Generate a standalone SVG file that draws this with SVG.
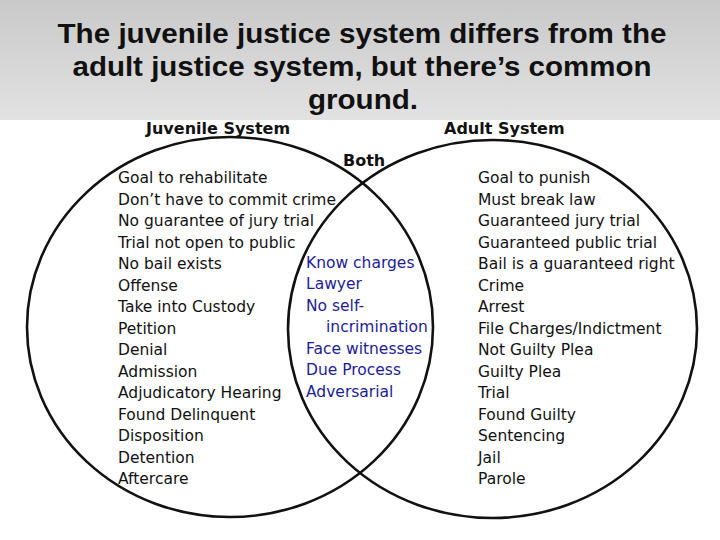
<svg xmlns="http://www.w3.org/2000/svg" width="720" height="540" viewBox="0 0 720 540">
<defs>
<linearGradient id="band" x1="0" y1="0" x2="0" y2="1">
<stop offset="0" stop-color="#c9c9c9"/>
<stop offset="1" stop-color="#e2e2e2"/>
</linearGradient>
<style>
.title{font-family:"Liberation Sans",Arial,sans-serif;font-weight:bold;font-size:28px;fill:#111;text-anchor:middle}
.head{font-family:"DejaVu Sans",sans-serif;font-weight:bold;font-size:16px;fill:#111}
.item{font-family:"DejaVu Sans",sans-serif;font-size:15.5px;fill:#111}
.both{font-family:"DejaVu Sans",sans-serif;font-size:15.5px;fill:#1c1c96}
.ring{fill:none;stroke:#111;stroke-width:2.6}
</style>
</defs>
<rect x="0" y="0" width="720" height="540" fill="#ffffff"/>
<rect x="0" y="0" width="720" height="120" fill="url(#band)"/>
<g id="title">
<text class="title" x="362" y="43" textLength="609" lengthAdjust="spacingAndGlyphs">The juvenile justice system differs from the</text>
<text class="title" x="362" y="76" textLength="579" lengthAdjust="spacingAndGlyphs">adult justice system, but there’s common</text>
<text class="title" x="363" y="109" textLength="110" lengthAdjust="spacingAndGlyphs">ground.</text>
</g>
<g id="connectors">
<ellipse class="ring" cx="230" cy="327" rx="203" ry="190"/>
<ellipse class="ring" cx="492.5" cy="329" rx="204.5" ry="189"/>
</g>
<g id="juvenile">
<text class="head" x="146" y="134">Juvenile System</text>
<text class="item" x="118" y="183">Goal to rehabilitate</text>
<text class="item" x="118" y="204.5">Don’t have to commit crime</text>
<text class="item" x="118" y="226">No guarantee of jury trial</text>
<text class="item" x="118" y="247.5">Trial not open to public</text>
<text class="item" x="118" y="269">No bail exists</text>
<text class="item" x="118" y="290.5">Offense</text>
<text class="item" x="118" y="312">Take into Custody</text>
<text class="item" x="118" y="333.5">Petition</text>
<text class="item" x="118" y="355">Denial</text>
<text class="item" x="118" y="376.5">Admission</text>
<text class="item" x="118" y="398">Adjudicatory Hearing</text>
<text class="item" x="118" y="419.5">Found Delinquent</text>
<text class="item" x="118" y="441">Disposition</text>
<text class="item" x="118" y="462.5">Detention</text>
<text class="item" x="118" y="484">Aftercare</text>
</g>
<g id="both">
<text class="head" x="343" y="166">Both</text>
<text class="both" x="306" y="267.5">Know charges</text>
<text class="both" x="306" y="289">Lawyer</text>
<text class="both" x="306" y="310.5">No self-</text>
<text class="both" x="326" y="332">incrimination</text>
<text class="both" x="306" y="353.5">Face witnesses</text>
<text class="both" x="306" y="375">Due Process</text>
<text class="both" x="306" y="396.5">Adversarial</text>
</g>
<g id="adult">
<text class="head" x="444" y="134">Adult System</text>
<text class="item" x="478" y="183">Goal to punish</text>
<text class="item" x="478" y="204.5">Must break law</text>
<text class="item" x="478" y="226">Guaranteed jury trial</text>
<text class="item" x="478" y="247.5">Guaranteed public trial</text>
<text class="item" x="478" y="269">Bail is a guaranteed right</text>
<text class="item" x="478" y="290.5">Crime</text>
<text class="item" x="478" y="312">Arrest</text>
<text class="item" x="478" y="333.5">File Charges/Indictment</text>
<text class="item" x="478" y="355">Not Guilty Plea</text>
<text class="item" x="478" y="376.5">Guilty Plea</text>
<text class="item" x="478" y="398">Trial</text>
<text class="item" x="478" y="419.5">Found Guilty</text>
<text class="item" x="478" y="441">Sentencing</text>
<text class="item" x="478" y="462.5">Jail</text>
<text class="item" x="478" y="484">Parole</text>
</g>
</svg>
